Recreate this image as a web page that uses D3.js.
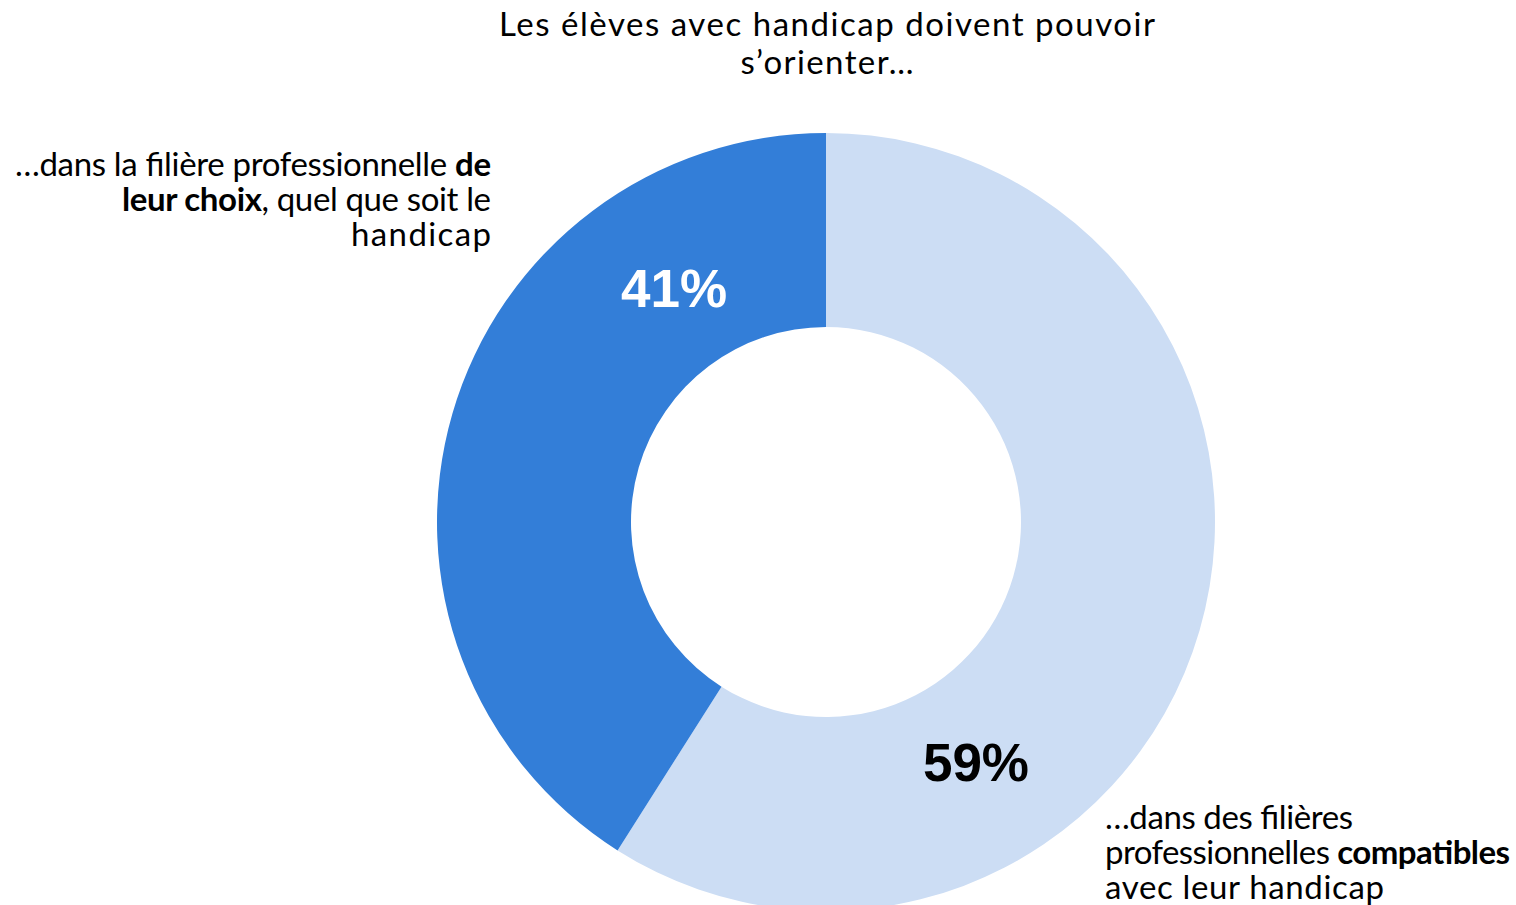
<!DOCTYPE html>
<html>
<head>
<meta charset="utf-8">
<script src="https://cdn.jsdelivr.net/npm/d3@7"></script>
<style>
  html, body { margin: 0; padding: 0; background: #ffffff; }
  svg { display: block; }
</style>
</head>
<body>
<div id="chart"></div>
<script>
// Donut: orientation professionnelle des élèves avec handicap

const categories = ["compatibles", "choix"];
const values = [59, 41];
const valueLabels = ["59%", "41%"];
const colors = ["#CCDDF4", "#337ED8"];
const valueColors = ["#000000", "#ffffff"];

// title + category labels, each line is a list of [text, bold]
const titleLines = [
    [["Les élèves avec handicap doivent pouvoir", false]],
    [["s’orienter…", false]]
];
const labelLines = [
    [
        [["…dans des filières", false]],
        [["professionnelles ", false], ["compatibles", true]],
        [["avec leur handicap", false]]
    ],
    [
        [["…dans la filière professionnelle ", false], ["de", true]],
        [["leur choix", true], [", quel que soit le", false]],
        [["handicap", false]]
    ]
];

const width = 1516;
const height = 905;
const cx = 826, cy = 522;
const outerR = 389, innerR = 195;
const textFont = "Lato, 'Open Sans', sans-serif";
const textSize = 33;

// measured line widths in the original (the font there is much wider)
const titleWidths = [656, 173];
const labelWidths = [[248, 405, 279], [476, 369, 140]];

const svg = d3.select("#chart")
    .append("svg")
    .attr("width", width)
    .attr("height", height);

const g = svg.append("g")
    .attr("transform", `translate(${cx},${cy})`);

const pie = d3.pie().sort(null).value(d => d);
const arc = d3.arc().innerRadius(innerR).outerRadius(outerR);

const arcs = pie(values);

g.selectAll("path")
    .data(arcs)
    .enter()
    .append("path")
    .attr("d", arc)
    .attr("fill", (d, i) => colors[i]);

// value labels, placed like in the original (not at the centroid)
const valuePos = [
    { angle: 148 * Math.PI / 180, r: 283 },
    { angle: 327 * Math.PI / 180, r: 279 }
];
const valueSize = 53;

g.selectAll("text.value")
    .data(arcs)
    .enter()
    .append("text")
    .attr("class", "value")
    .attr("x", (d, i) => d3.pointRadial(valuePos[i].angle, valuePos[i].r)[0])
    .attr("y", (d, i) => d3.pointRadial(valuePos[i].angle, valuePos[i].r)[1] + valueSize * 0.36)
    .attr("text-anchor", "middle")
    .attr("font-family", "'Liberation Sans', Arial, sans-serif")
    .attr("font-weight", "bold")
    .attr("font-size", valueSize)
    .attr("fill", (d, i) => valueColors[i])
    .text((d, i) => valueLabels[i]);

// helper for multi-line text blocks, one <text> per line stretched to the original width
function textBlock(lines, widths, x, y0, lineH, anchor) {
    lines.forEach((line, li) => {
        const t = svg.append("text")
            .attr("font-family", textFont)
            .attr("font-size", textSize)
            .attr("fill", "#000")
            .attr("text-anchor", anchor)
            .attr("x", x)
            .attr("y", y0 + li * lineH)
            .attr("textLength", widths[li])
            .attr("lengthAdjust", "spacing")
            .style("white-space", "pre");
        line.forEach(seg => {
            t.append("tspan")
                .attr("font-weight", seg[1] ? "bold" : "normal")
                .text(seg[0]);
        });
    });
}

textBlock(titleLines, titleWidths, 827, 36, 38, "middle");
textBlock(labelLines[1], labelWidths[1], 491, 176, 35, "end");
textBlock(labelLines[0], labelWidths[0], 1105, 829, 35, "start");
</script>
</body>
</html>
